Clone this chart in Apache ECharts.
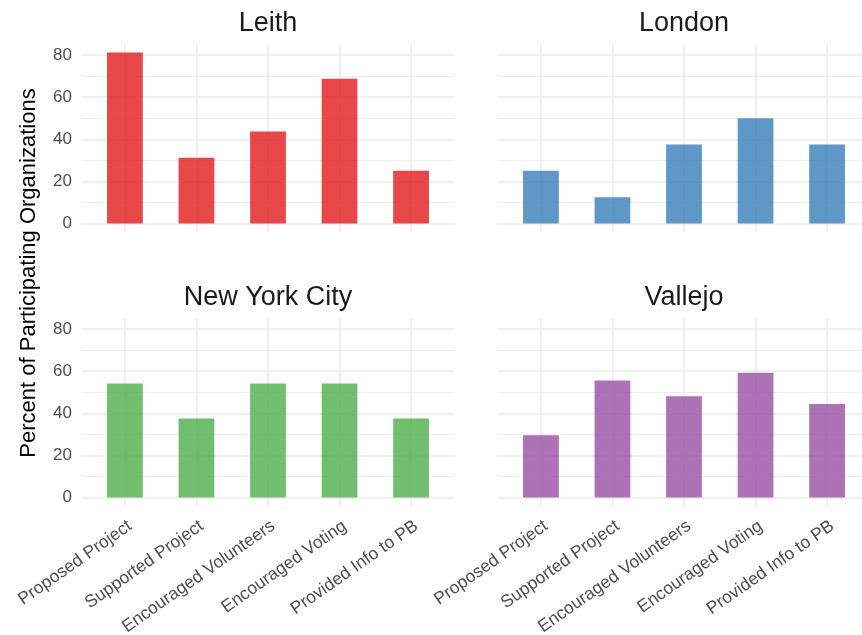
<!DOCTYPE html>
<html><head><meta charset="utf-8">
<script src="https://cdn.jsdelivr.net/npm/echarts@6/dist/echarts.min.js"></script>
<style>html,body{margin:0;padding:0;background:#fff;overflow:hidden;width:862px;height:635px}#c{width:880px;height:635px}</style>
</head><body><div id="c"></div>
<script>
const categories = ['Proposed Project','Supported Project','Encouraged Volunteers','Encouraged Voting','Provided Info to PB'];
const leith = [81.25, 31.25, 43.75, 68.75, 25];
const london = [25, 12.5, 37.5, 50, 37.5];
const nyc = [54.17, 37.5, 54.17, 54.17, 37.5];
const vallejo = [29.63, 55.56, 48.15, 59.26, 44.44];
const yTicks = [0, 20, 40, 60, 80];
const yMinorTicks = [10, 30, 50, 70];
const panelTitles = ['Leith', 'London', 'New York City', 'Vallejo'];
const panelColors = ['#E41A1C', '#377EB8', '#4DAF4A', '#984EA3'];
const panelData = [leith, london, nyc, vallejo];

const FONT = 'Liberation Sans, Arial, sans-serif';
const allVals = [].concat(leith, london, nyc, vallejo);
const dMax = Math.max(...allVals), dMin = 0;
const ySpan = dMax - dMin;
const yMin = dMin - ySpan * 0.05, yMax = dMax + ySpan * 0.05;
const xMin = 0.4, xMax = categories.length + 0.6;
const xPos = categories.map((c, i) => i + 1);

const panels = [
  {left: 82, top: 44},
  {left: 498, top: 44},
  {left: 82, top: 318},
  {left: 498, top: 318}
];
const PW = 372, PH = 188;
const barW = PW / (xMax - xMin) * 0.5;

const grids = [], xAxes = [], yAxes = [], series = [], graphics = [];
panels.forEach((p, k) => {
  grids.push({left: p.left, top: p.top, width: PW, height: PH, containLabel: false, outerBoundsMode: 'none'});
  const bottomRow = k >= 2, leftCol = k % 2 === 0;
  xAxes.push({
    type: 'value', gridIndex: k, min: xMin, max: xMax,
    axisLine: {show: false},
    axisTick: {show: false, customValues: xPos},
    axisLabel: {
      show: bottomRow, customValues: xPos, rotate: 35, margin: 11,
      verticalAlign: 'top',
      fontFamily: FONT, fontSize: 17.5, color: '#4D4D4D',
      formatter: v => categories[Math.round(v) - 1]
    },
    splitLine: {show: true, lineStyle: {color: '#EBEBEB', width: 1.6}}
  });
  yAxes.push({
    type: 'value', gridIndex: k, min: yMin, max: yMax,
    axisLine: {show: false},
    axisTick: {show: false, customValues: yTicks},
    axisLabel: {show: leftCol, customValues: yTicks, margin: 10,
      fontFamily: FONT, fontSize: 17, color: '#4D4D4D'},
    splitLine: {show: true, lineStyle: {color: '#EBEBEB', width: 1.6}}
  });
  yAxes.push({
    type: 'value', gridIndex: k, min: yMin, max: yMax,
    axisLine: {show: false},
    axisTick: {show: false, customValues: yMinorTicks},
    axisLabel: {show: false, customValues: yMinorTicks},
    splitLine: {show: true, lineStyle: {color: '#EBEBEB', width: 0.9}}
  });
  series.push({
    type: 'bar', xAxisIndex: k, yAxisIndex: 2 * k, barWidth: barW,
    itemStyle: {color: panelColors[k], opacity: 0.8},
    data: panelData[k].map((v, i) => [xPos[i], v]),
    animation: false
  });
  graphics.push({
    type: 'text', x: p.left + PW / 2, y: p.top - 20,
    style: {text: panelTitles[k], fontFamily: FONT, fontSize: 27, fill: '#1A1A1A',
      textAlign: 'center', textVerticalAlign: 'middle'}
  });
});

graphics.push({
  type: 'text', x: 29, y: 273, rotation: Math.PI / 2,
  style: {text: 'Percent of Participating Organizations', fontFamily: FONT, fontSize: 22,
    fill: '#000', textAlign: 'center', textVerticalAlign: 'middle'}
});

const chart = echarts.init(document.getElementById('c'), null, {renderer: 'canvas'});
chart.setOption({
  animation: false,
  backgroundColor: '#fff',
  grid: grids, xAxis: xAxes, yAxis: yAxes, series: series,
  graphic: graphics
});
</script></body></html>
